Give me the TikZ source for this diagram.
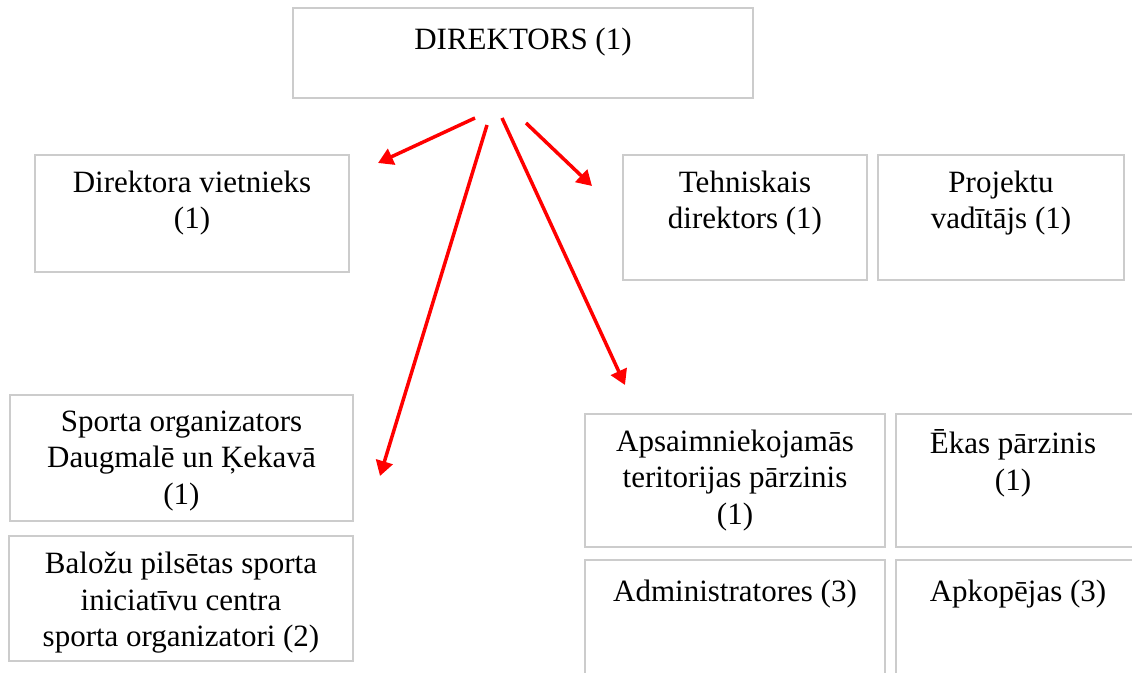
\documentclass[tikz,border=0pt]{standalone}
\usepackage{fontspec}
\setmainfont{Liberation Serif}
\usetikzlibrary{arrows.meta, positioning}

\begin{document}
\begin{tikzpicture}[x=1pt, y=-1pt]
	\tikzstyle{Box} = [rectangle, draw=black!20, line width=1.5pt, inner sep=0pt]
	\tikzstyle{Text} = [anchor=north, inner sep=0pt, align=center, font=\fontsize{31}{36.5}\selectfont, execute at begin node=\strut, yshift=-16.5pt]
	\tikzstyle{arrow} = [line width=3.5pt, red, -{Triangle[length=15pt,width=17pt]}]

	\useasboundingbox (0,0) rectangle (1132,672);
	\clip (0,0) rectangle (1132,672);

	% boxes
	\node (dir) [Box, minimum width=460pt, minimum height=90pt] at (523,53) {};
	\node (viet) [Box, minimum width=314pt, minimum height=117pt] at (192,213.5) {};
	\node (tehn) [Box, minimum width=244pt, minimum height=125pt] at (745,217.5) {};
	\node (proj) [Box, minimum width=246pt, minimum height=125pt] at (1001,217.5) {};
	\node (sport) [Box, minimum width=343pt, minimum height=126pt] at (181.5,458) {};
	\node (baloz) [Box, minimum width=344pt, minimum height=125pt] at (181,598.5) {};
	\node (apsa) [Box, minimum width=300pt, minimum height=133pt] at (735,480.5) {};
	\node (ekas) [Box, minimum width=244pt, minimum height=133pt] at (1018,480.5) {};
	\node (admin) [Box, minimum width=300pt, minimum height=130pt] at (735,625) {};
	\node (apkop) [Box, minimum width=244pt, minimum height=130pt] at (1018,625) {};

	% texts
	\node (dirT) [Text] at (dir.north) {DIREKTORS (1)};
	\node (vietT) [Text] at (viet.north) {Direktora vietnieks\\(1)};
	\node (tehnT) [Text] at (tehn.north) {Tehniskais\\direktors (1)};
	\node (projT) [Text] at (proj.north) {Projektu\\vadītājs (1)};
	\node (sportT) [Text] at (sport.north) {Sporta organizators\\Daugmalē un Ķekavā\\(1)};
	\node (balozT) [Text] at (baloz.north) {Baložu pilsētas sporta\\iniciatīvu centra\\sporta organizatori (2)};
	\node (apsaT) [Text] at (apsa.north) {Apsaimniekojamās\\teritorijas pārzinis\\(1)};
	\node (ekasT) [Text] at ([xshift=-5pt]ekas.north) {Ēkas pārzinis\\(1)};
	\node (adminT) [Text] at (admin.north) {Administratores (3)};
	\node (apkopT) [Text] at (apkop.north) {Apkopējas (3)};

	% arrows
	\coordinate (a1) at (475,118);
	\coordinate (b1) at (378,163);
	\coordinate (a2) at (487,125);
	\coordinate (b2) at (380,476);
	\coordinate (a3) at (502,118);
	\coordinate (b3) at (625,385);
	\coordinate (a4) at (526,123);
	\coordinate (b4) at (592,186);
	\draw [arrow] (a1) -- (b1);
	\draw [arrow] (a2) -- (b2);
	\draw [arrow] (a3) -- (b3);
	\draw [arrow] (a4) -- (b4);
\end{tikzpicture}
\end{document}
